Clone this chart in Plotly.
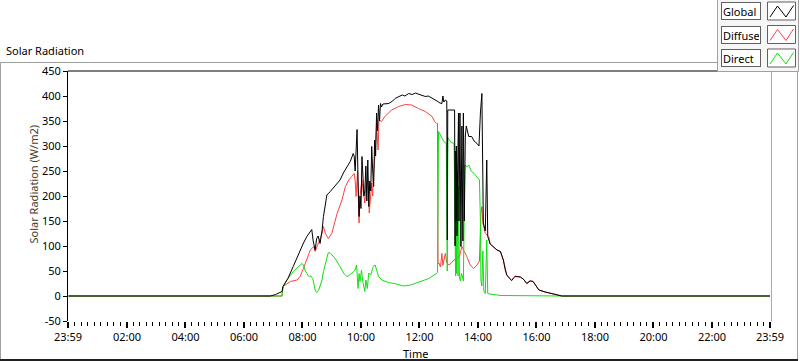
import plotly.graph_objects as go

DAY = "2024-01-02"

series_names = ["Global", "Diffuse", "Direct"]
series_colors = ["#000000", "#ff4040", "#10e010"]

global_times = ["00:00", "06:54", "07:05", "07:18", "07:20", "07:30", "07:41", "07:55", "08:02", "08:09",
                "08:15", "08:19", "08:22", "08:26", "08:29", "08:32", "08:36", "08:40", "08:43", "08:50",
                "08:57", "09:07", "09:17", "09:25", "09:31", "09:38", "09:44", "09:46", "09:48", "09:50",
                "09:52", "09:54", "09:56", "09:58", "10:00", "10:02", "10:04", "10:06", "10:08", "10:10",
                "10:12", "10:14", "10:16", "10:18", "10:20", "10:22", "10:24", "10:26", "10:28", "10:30",
                "10:32", "10:34", "10:36", "10:38", "10:40", "10:42", "10:45", "10:57", "11:05", "11:10",
                "11:18", "11:25", "11:30", "11:38", "11:45", "11:52", "11:57", "12:04", "12:12", "12:18",
                "12:24", "12:30", "12:36", "12:42", "12:46", "12:48", "12:50", "12:53",
                "12:56", "12:57", "12:58", "13:12", "13:13", "13:14", "13:15", "13:16", "13:17", "13:18",
                "13:20", "13:21", "13:23", "13:25", "13:27", "13:29", "13:30", "13:32", "13:34", "13:36",
                "13:38", "13:41", "13:47", "13:52", "13:58", "14:02", "14:05", "14:08", "14:11", "14:15",
                "14:18", "14:20", "14:25", "14:39", "14:46", "14:52", "14:56", "14:59", "15:06", "15:09",
                "15:14", "15:16", "15:27", "15:34", "15:40", "15:47", "15:53", "15:59", "16:05", "16:18",
                "16:32", "16:49", "16:52", "23:59"]
global_values = [0, 0, 3, 9, 19, 35, 59, 92, 106, 119,
                 126, 133, 110, 92, 115, 120, 105, 130, 159, 202,
                 209, 220, 232, 248, 259, 269, 285, 280, 250, 305,
                 333, 230, 159, 200, 175, 279, 230, 200, 212, 260,
                 190, 272, 179, 230, 210, 299, 250, 219, 312, 280,
                 366, 330, 382, 350, 385, 378, 384, 385, 390, 395,
                 399, 402, 400, 405, 403, 406, 404, 401, 399, 400,
                 397, 393, 390, 386, 385, 400, 388, 392,
                 390, 112, 372, 372, 100, 290, 150, 300, 120, 230,
                 366, 150, 366, 99, 340, 110, 366, 150, 320, 340,
                 330, 319, 319, 310, 305, 300, 366, 405, 146, 130,
                 272, 119, 104, 92, 89, 72, 52, 42, 34, 31,
                 37, 39, 38, 33, 25, 30, 29, 20, 12, 8,
                 5, 1, 0, 0]

diffuse_times = ["00:00", "07:18", "07:20", "07:35", "07:49", "07:55", "08:02", "08:09", "08:16", "08:23",
                 "08:26", "08:33", "08:40", "08:43", "08:47", "08:53", "09:00", "09:11", "09:21", "09:28",
                 "09:35", "09:41", "09:46", "09:48", "09:50", "09:53", "09:56", "09:58", "10:02", "10:05",
                 "10:08", "10:10", "10:14", "10:17", "10:22", "10:24", "10:25", "10:29", "10:32", "10:35",
                 "10:37", "10:42", "10:49", "11:03", "11:17", "11:31", "11:44", "11:58", "12:12", "12:26",
                 "12:31", "12:35", "12:37", "12:38", "12:40", "12:43", "12:46", "12:48", "12:50", "12:53",
                 "12:56", "13:01", "13:11", "13:22", "13:27", "13:31", "13:37", "13:44", "13:51", "13:58",
                 "14:03", "14:06", "14:08", "14:10", "14:15", "14:22", "14:25", "14:39", "14:46", "14:52",
                 "14:56", "14:59", "15:06", "15:09", "15:14", "15:16", "15:27", "15:34", "15:40", "15:47",
                 "15:53", "15:59", "16:05", "16:18", "16:32", "16:49", "16:52", "23:59"]
diffuse_values = [0, 0, 19, 29, 32, 39, 55, 72, 92, 99,
                  89, 107, 125, 139, 125, 115, 125, 165, 192, 219,
                  232, 239, 245, 232, 199, 250, 146, 200, 232, 206,
                  186, 220, 232, 166, 226, 200, 232, 286, 345, 292,
                  352, 349, 359, 372, 379, 383, 382, 375, 369, 359,
                  349, 345, 345, 65, 66, 58, 85, 61, 72, 85,
                  66, 62, 72, 79, 99, 92, 79, 62, 55, 62,
                  70, 165, 179, 146, 125, 119, 104, 92, 89, 72,
                  52, 42, 34, 31, 37, 40, 38, 33, 25, 31,
                  29, 20, 12, 8, 5, 1, 0, 0]

direct_times = ["00:00", "07:18", "07:20", "07:28", "07:41", "07:52", "07:59", "08:02", "08:05", "08:09",
                "08:13", "08:17", "08:21", "08:26", "08:29", "08:33", "08:40", "08:43", "08:50", "08:53",
                "08:58", "09:07", "09:17", "09:25", "09:31", "09:37", "09:45", "09:48", "09:51", "09:54",
                "09:56", "09:58", "10:01", "10:04", "10:08", "10:10", "10:13", "10:16", "10:20", "10:25",
                "10:29", "10:32", "10:36", "10:43", "10:56", "11:13", "11:27", "11:42", "12:01", "12:19",
                "12:32", "12:37", "12:39", "12:43", "12:46", "12:50", "12:55", "12:57", "12:58", "13:04",
                "13:11", "13:13", "13:14", "13:15", "13:16", "13:17", "13:19", "13:20", "13:22", "13:24",
                "13:26", "13:28", "13:30", "13:33", "13:37", "13:41", "13:46", "13:52", "13:58", "14:03",
                "14:05", "14:06", "14:08", "14:10", "14:12", "14:15", "14:18", "14:20", "14:25", "14:45",
                "14:47", "16:52", "23:59"]
direct_values = [0, 0, 19, 32, 49, 60, 65, 62, 52, 45,
                 39, 40, 35, 12, 7, 11, 32, 49, 79, 87,
                 85, 75, 59, 45, 39, 42, 49, 52, 62, 15,
                 45, 29, 52, 27, 9, 32, 15, 46, 42, 59,
                 62, 52, 39, 32, 27, 24, 20, 22, 29, 35,
                 43, 47, 329, 322, 316, 309, 305, 50, 317, 308,
                 305, 165, 40, 300, 45, 250, 40, 220, 35, 30,
                 45, 40, 30, 262, 258, 262, 250, 245, 239, 232,
                 150, 32, 20, 90, 10, 5, 112, 5, 4, 2,
                 1, 0, 0]

y_ticks = [-50, 0, 50, 100, 150, 200, 250, 300, 350, 400, 450]
x_tick_times = ["2024-01-01 23:59", "2024-01-02 02:00", "2024-01-02 04:00", "2024-01-02 06:00",
                "2024-01-02 08:00", "2024-01-02 10:00", "2024-01-02 12:00", "2024-01-02 14:00",
                "2024-01-02 16:00", "2024-01-02 18:00", "2024-01-02 20:00", "2024-01-02 22:00",
                "2024-01-02 23:59"]
x_tick_labels = ["23:59", "02:00", "04:00", "06:00", "08:00", "10:00", "12:00", "14:00",
                 "16:00", "18:00", "20:00", "22:00", "23:59"]

W, H = 800, 361
L, R, T, B = 68, 30, 71, 40
PW = W - L - R
PH = H - T - B


def px(x):
    return (x - L) / PW


def py(y):
    return (H - B - y) / PH


def stamp(times):
    return [f"{DAY} {t}" for t in times]


series = {
    "Global": (global_times, global_values),
    "Diffuse": (diffuse_times, diffuse_values),
    "Direct": (direct_times, direct_values),
}
color_of = dict(zip(series_names, series_colors))

fig = go.Figure()
for name in ["Diffuse", "Direct", "Global"]:
    t, v = series[name]
    fig.add_trace(go.Scatter(x=stamp(t), y=v, mode="lines", name=name,
                             line=dict(color=color_of[name], width=1), showlegend=False))

FONT = "Noto Sans"
shapes = []
annotations = []

# outer frame
shapes.append(dict(type="rect", xref="paper", yref="paper", x0=px(0.5), x1=px(797.5), y0=py(360), y1=py(62.5),
                   line=dict(color="#a0a0a0", width=1), fillcolor="rgba(0,0,0,0)", layer="below"))
shapes.append(dict(type="line", xref="paper", yref="paper", x0=px(0), x1=px(798), y0=py(360), y1=py(360),
                   line=dict(color="#202020", width=2)))
# plot frame top (black) and right (gray)
shapes.append(dict(type="line", xref="paper", yref="paper", x0=px(68), x1=px(772), y0=py(71), y1=py(71),
                   line=dict(color="black", width=1)))
shapes.append(dict(type="line", xref="paper", yref="paper", x0=px(771.5), x1=px(771.5), y0=py(71), y1=py(321.5),
                   line=dict(color="#a8a8a8", width=1)))
# legend panel
shapes.append(dict(type="rect", xref="paper", yref="paper", x0=px(717.5), x1=px(798.5), y0=py(71.5), y1=py(-2),
                   line=dict(color="#a0a0a0", width=1), fillcolor="#f6f6f6"))

row_tops = [2, 25.5, 49]
row_h = 18
for name, top in zip(series_names, row_tops):
    cy = top + row_h / 2
    annotations.append(dict(xref="paper", yref="paper", x=px(741), y=py(cy), text=name, showarrow=False,
                            xanchor="center", yanchor="middle", width=36, height=14, align="left",
                            bordercolor="#606060", borderwidth=1, borderpad=1, bgcolor="white",
                            font=dict(family=FONT, size=11, color="black")))
    shapes.append(dict(type="rect", xref="paper", yref="paper", x0=px(767.5), x1=px(795.5),
                       y0=py(top + row_h), y1=py(top), line=dict(color="#606060", width=1), fillcolor="white"))
    bx = 767.5
    pts = [(bx + 2.5, top + row_h - 3), (bx + 10, top + 4), (bx + 18.5, top + row_h - 3), (bx + 26, top + 3.5)]
    path = "M " + " L ".join(f"{px(a):.5f},{py(b):.5f}" for a, b in pts)
    shapes.append(dict(type="path", xref="paper", yref="paper", path=path,
                       line=dict(color=color_of[name], width=1)))

annotations.append(dict(xref="paper", yref="paper", x=px(4), y=py(50.5), text="Solar Radiation", showarrow=False,
                        xanchor="left", yanchor="middle", font=dict(family=FONT, size=11, color="black")))
annotations.append(dict(xref="paper", yref="paper", x=px(32.5), y=py(184), text="Solar Radiation (W/m2)",
                        showarrow=False, textangle=-90, xanchor="center", yanchor="middle",
                        font=dict(family=FONT, size=11, color="#4a3b1f")))
annotations.append(dict(xref="paper", yref="paper", x=px(415.5), y=py(353), text="Time", showarrow=False,
                        xanchor="center", yanchor="middle", font=dict(family=FONT, size=11, color="black")))

fig.update_layout(
    width=W, height=H,
    margin=dict(l=L, r=R, t=T, b=B, autoexpand=False),
    paper_bgcolor="white", plot_bgcolor="white",
    font=dict(family=FONT, size=11, color="black"),
    showlegend=False,
    hovermode=False,
    shapes=shapes, annotations=annotations,
    xaxis=dict(type="date", range=[x_tick_times[0], x_tick_times[-1]], tickmode="array",
               tickvals=x_tick_times, ticktext=x_tick_labels, showgrid=False, zeroline=False,
               showline=False, ticks="outside", ticklen=6, tickwidth=2, tickcolor="black",
               tickfont=dict(family=FONT, size=11, color="black"), automargin=False,
               minor=dict(ticks="outside", dtick=800000, tick0="2024-01-02 00:00", ticklen=4,
                          tickwidth=1, tickcolor="black", showgrid=False)),
    yaxis=dict(range=[-50, 450], tickmode="array", tickvals=y_ticks, ticktext=[str(v) for v in y_ticks],
               showgrid=False, zeroline=False, showline=True, linecolor="black", linewidth=1,
               ticks="outside", ticklen=4, tickwidth=1, tickcolor="black",
               tickfont=dict(family=FONT, size=11, color="black"), automargin=False),
)

fig.write_html("out.html", config={"displayModeBar": False, "staticPlot": True},
               post_script="document.body.style.margin='0px';document.body.style.overflow='hidden';")
